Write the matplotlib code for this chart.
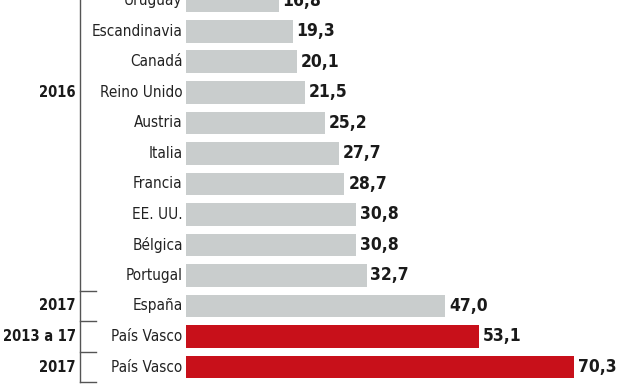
import matplotlib.pyplot as plt
from matplotlib import transforms

plt.rcParams['font.family'] = ['DejaVu Sans']
plt.rcParams['font.stretch'] = 'condensed'

# Data
paises = ["Uruguay", "Escandinavia", "Canadá", "Reino Unido", "Austria", "Italia",
          "Francia", "EE. UU.", "Bélgica", "Portugal", "España", "País Vasco", "País Vasco"]
valores = [16.8, 19.3, 20.1, 21.5, 25.2, 27.7, 28.7, 30.8, 30.8, 32.7, 47.0, 53.1, 70.3]
destacado = [False] * 11 + [True, True]
grupos = ["2016", "2017", "2013 a 17", "2017"]
grupo_fila = [3, 10, 11, 12]
cortes = [9.5, 10.5, 11.5, 12.5]

gris = "#c9cdcd"
rojo = "#c8101a"

fig = plt.figure(figsize=(6.24, 3.85), dpi=100)
ax = fig.add_axes([186 / 624, 0, 438 / 624, 1])

filas = list(range(len(paises)))
colores = [rojo if d else gris for d in destacado]
ax.barh(filas, valores, height=0.75, color=colores)

ax.set_xlim(0, 438 / 5.52)
ax.set_ylim(12.59, -0.03)
ax.axis("off")

for y, (p, v) in enumerate(zip(paises, valores)):
    ax.text(-0.6, y, p, ha="right", va="center", fontsize=11, color="#222222",
            fontstretch="condensed")
    ax.text(v + 0.7, y, f"{v:.1f}".replace(".", ","), ha="left", va="center",
            fontsize=12.5, fontweight="bold", color="#1a1a1a", fontstretch="condensed")

# bracket on the left
tr = transforms.blended_transform_factory(fig.transFigure, ax.transData)
x0 = 80 / 624
ax.plot([x0, x0], [-0.03, 12.5], color="#555555", lw=1, transform=tr, clip_on=False)
for c in cortes:
    ax.plot([x0, 96 / 624], [c, c], color="#555555", lw=1, transform=tr, clip_on=False)

for g, y in zip(grupos, grupo_fila):
    ax.text(76 / 624, y, g, ha="right", va="center", fontsize=10.5,
            fontweight="bold", color="#1a1a1a", transform=tr, fontstretch="condensed")

fig.savefig("out.png", dpi=100)
